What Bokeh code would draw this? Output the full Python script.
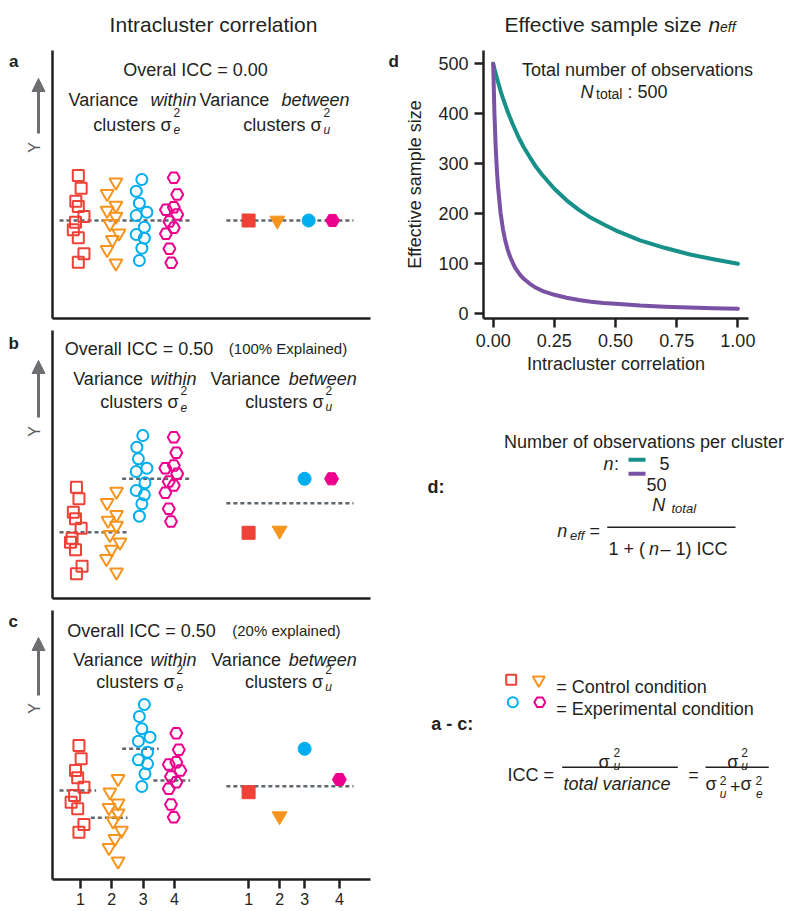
import math
from bokeh.plotting import figure
from bokeh.layouts import row, column
from bokeh.models import (Range1d, FixedTicker, Label, Arrow, NormalHead,
                          PrintfTickFormatter, LinearAxis)
from bokeh.embed import file_html
from bokeh.resources import INLINE

# ---------------- data ----------------
CLUSTERS = [1, 2, 3, 4]
TICK_LABELS = ["1", "2", "3", "4"]

# panel a : overall ICC = 0.00
A_RED_Y = [14.3, 13.03, 11.73, 11.2, 10.2, 9.63, 8.87, 8.07, 6.47, 5.63]
A_RED_DX = [-0.07, 0.02, -0.15, -0.07, 0.11, -0.16, -0.23, -0.07, 0.11, -0.07]
A_ORA_Y = [13.63, 12.47, 11.3, 10.8, 10.2, 9.47, 8.53, 7.87, 6.87, 5.53]
A_ORA_DX = [0.13, -0.15, 0.13, -0.15, 0.13, -0.06, 0.23, 0.02, -0.15, 0.13]
A_BLU_Y = [13.9, 12.73, 11.53, 10.63, 10.3, 9.13, 8.4, 8.03, 7.03, 5.8]
A_BLU_DX = [-0.04, -0.22, -0.12, 0.12, -0.22, 0.04, -0.22, 0.04, -0.04, -0.12]
A_MAG_Y = [14.07, 12.4, 11.13, 10.87, 10.4, 9.7, 9.07, 8.47, 6.97, 5.57]
A_MAG_DX = [-0.02, 0.09, -0.02, -0.27, 0.09, -0.16, -0.02, -0.27, -0.16, -0.1]
A_GROUP_MEANS = [9.8]
A_GROUP_SPANS = [(1, 4)]
A_BETWEEN_X = [6.37, 7.29, 8.29, 9.05]
A_BETWEEN_Y = [9.8, 9.8, 9.8, 9.8]
A_OVERALL = 9.8

# panel b : overall ICC = 0.50 (100% explained)
B_RED_Y = [11.13, 9.97, 8.63, 7.97, 7.03, 6.03, 5.63, 4.87, 3.23, 2.47]
B_RED_DX = [-0.13, -0.05, -0.23, -0.16, 0.02, -0.27, -0.32, -0.16, 0.05, -0.13]
B_ORA_Y = [10.7, 9.57, 8.37, 7.8, 7.3, 6.37, 5.63, 4.9, 3.97, 2.63]
B_ORA_DX = [0.15, -0.15, 0.15, -0.12, 0.15, -0.06, 0.26, -0.01, -0.17, 0.15]
B_BLU_Y = [16.3, 15.13, 13.97, 13.03, 12.7, 11.57, 10.8, 10.37, 9.47, 8.23]
B_BLU_DX = [-0.01, -0.2, -0.15, 0.12, -0.22, 0.06, -0.22, 0.04, -0.04, -0.12]
B_MAG_Y = [16.13, 14.57, 13.3, 13.03, 12.47, 11.7, 11.3, 10.57, 8.97, 7.7]
B_MAG_DX = [-0.02, 0.06, -0.02, -0.29, 0.09, -0.18, -0.02, -0.29, -0.18, -0.11]
B_GROUP_MEANS = [6.63, 11.97]
B_GROUP_SPANS = [(1, 2), (3, 4)]
B_BETWEEN_X = [6.37, 7.36, 8.16, 9.02]
B_BETWEEN_Y = [6.57, 6.8, 11.97, 11.97]
B_OVERALL = 9.53

# panel c : overall ICC = 0.50 (20% explained)
C_RED_Y = [13.4, 12.07, 10.9, 10.17, 9.23, 8.4, 7.73, 7.07, 5.5, 4.73]
C_RED_DX = [-0.05, 0.02, -0.16, -0.09, 0.11, -0.19, -0.3, -0.09, 0.11, -0.05]
C_ORA_Y = [10.07, 8.73, 7.63, 7.17, 6.63, 5.83, 4.9, 4.07, 3.17, 1.83]
C_ORA_DX = [0.2, -0.06, 0.2, -0.09, 0.2, 0.04, 0.31, 0.1, -0.09, 0.2]
C_BLU_Y = [17.5, 16.3, 15.07, 14.23, 13.83, 12.73, 11.97, 11.57, 10.57, 9.3]
C_BLU_DX = [0.04, -0.12, -0.04, 0.22, -0.15, 0.14, -0.15, 0.14, 0.06, -0.04]
C_MAG_Y = [14.63, 12.97, 11.73, 11.5, 10.9, 10.3, 9.73, 9.07, 7.5, 6.23]
C_MAG_DX = [0.06, 0.14, 0.06, -0.18, 0.19, -0.11, 0.06, -0.18, -0.11, -0.02]
C_GROUP_MEANS = [8.9, 6.17, 13.07, 9.9]
C_GROUP_SPANS = [(1, 1), (2, 2), (3, 3), (4, 4)]
C_BETWEEN_X = [6.37, 7.36, 8.16, 9.27]
C_BETWEEN_Y = [8.73, 6.33, 13.07, 10.0]
C_OVERALL = 9.33

# panel d : effective sample size vs ICC
ICC_X = [0, 0.005, 0.01, 0.015, 0.02, 0.03, 0.04, 0.05, 0.06, 0.07, 0.08, 0.09, 0.1,
         0.11, 0.125, 0.15, 0.175, 0.2, 0.25, 0.3, 0.35, 0.4, 0.45, 0.5, 0.6, 0.7,
         0.8, 0.9, 1.0]
NEFF_5 = [500, 490, 481, 472, 463, 446, 431, 417, 403, 391, 379, 368, 357,
          347, 333, 313, 294, 278, 250, 227, 208, 192, 179, 167, 147, 132,
          119, 109, 100]
NEFF_50 = [500, 402, 336, 288, 253, 202, 169, 145, 127, 113, 102, 92, 85,
           78, 70, 60, 52, 46, 38, 32, 27.5, 24, 21.7, 20, 16.4, 14.2,
           12.4, 11.1, 10]
D_X_TICKS = [0, 0.25, 0.5, 0.75, 1.0]
D_Y_TICKS = [0, 100, 200, 300, 400, 500]

# ---------------- style ----------------
FONT = "Liberation Sans"
TXT = "#231f20"
GRAY = "#6d6e71"
DASH_C = "#5e676e"
RED, ORANGE, BLUE, MAGENTA = "#ef4136", "#f7941d", "#00aeef", "#ec008c"
TEAL, PURPLE = "#17908a", "#7a52a5"
MARKERS = [("square", RED, 11), ("inverted_triangle", ORANGE, 13),
           ("circle", BLUE, 11), ("hex", MAGENTA, 12)]
LEFT_W, RIGHT_W = 385, 413
X_LO, X_HI = -1.556, 10.744          # left panels: 31.3 px per cluster step
X_AX0, X_AX1 = 0.105, 10.265


def lab(p, ox, oy, x, y, text, size=18, style="normal", align="left",
        baseline="alphabetic", color=TXT, angle=0.0):
    p.add_layout(Label(x=x - ox, y=y - oy, x_units="canvas", y_units="canvas",
                       text=text, text_font=FONT, text_font_size=f"{size}px",
                       text_font_style=style, text_align=align,
                       text_baseline=baseline, text_color=color, angle=angle))


def base_fig(width, height, xr, yr):
    p = figure(width=width, height=height, x_range=xr, y_range=yr,
               output_backend="svg", toolbar_location=None, min_border=0,
               x_axis_location=None, y_axis_location=None)
    p.outline_line_color = None
    p.xgrid.visible = False
    p.ygrid.visible = False
    p.background_fill_color = "white"
    p.border_fill_color = "white"
    return p


def style_axis(ax):
    ax.axis_line_color = TXT
    ax.axis_line_width = 2.5
    ax.minor_tick_line_color = None
    ax.major_tick_line_color = TXT
    ax.major_tick_line_width = 2.5
    ax.major_tick_out = 9
    ax.major_tick_in = 0
    ax.major_label_text_font = FONT
    ax.major_label_text_color = TXT
    ax.axis_label_text_font = FONT
    ax.axis_label_text_font_style = "normal"
    ax.axis_label_text_color = TXT


def panel(height, y_lo, y_hi, y_top, ys, dxs, means, spans, bx, by, overall, ticks=False):
    p = base_fig(LEFT_W, height, Range1d(X_LO, X_HI), Range1d(y_lo, y_hi))
    xa = LinearAxis(fixed_location=0, bounds=(X_AX0, X_AX1))
    ya = LinearAxis(fixed_location=X_AX0, bounds=(0, y_top))
    for ax in (xa, ya):
        style_axis(ax)
        ax.ticker = FixedTicker(ticks=[])
        ax.major_tick_line_color = None
    if ticks:
        xa.ticker = FixedTicker(ticks=CLUSTERS + bx)
        ov = {}
        for k, t in zip(CLUSTERS, TICK_LABELS):
            ov[k] = t
        for k, t in zip(bx, TICK_LABELS):
            ov[k] = t
        xa.major_label_overrides = ov
        xa.major_tick_line_color = TXT
        xa.major_label_text_font_size = "16px"
        xa.major_label_standoff = 4
    p.add_layout(xa, "below")
    p.add_layout(ya, "left")
    # dashed mean lines (within clusters)
    x0 = [CLUSTERS[a - 1] - 0.67 for a, b in spans]
    x1 = [CLUSTERS[b - 1] + 0.5 for a, b in spans]
    p.segment(x0=x0, y0=means, x1=x1, y1=means, line_color=DASH_C,
              line_width=2.5, line_dash="4 3")
    # dashed overall line (between clusters)
    p.segment(x0=[5.66], y0=[overall], x1=[9.72], y1=[overall], line_color=DASH_C,
              line_width=2.5, line_dash="4 3")
    for k, y, dx, (mk, col, sz) in zip(CLUSTERS, ys, dxs, MARKERS):
        xs = [k + d for d in dx]
        p.scatter(xs, y, marker=mk, size=sz, fill_color=None, line_color=col, line_width=2)
    for x, y, (mk, col, sz) in zip(bx, by, MARKERS):
        p.scatter([x], [y], marker=mk, size=sz + 2, fill_color=col, line_color=col, line_width=1)
    return p


def arrow_y(p, oy, tip, bottom, ylab):
    p.add_layout(Arrow(end=NormalHead(size=13, fill_color=GRAY, line_color=GRAY, line_width=1),
                       x_start=38, y_start=bottom - oy, x_end=38, y_end=tip - oy,
                       start_units="canvas", end_units="canvas",
                       line_color=GRAY, line_width=3))
    lab(p, 0, oy, 34, ylab, "Y", 16, align="center", baseline="middle",
        color="#58595b", angle=math.pi / 2)


def sigma_block(p, oy, xr, y, sub, up=12, down=5):
    lab(p, 0, oy, xr, y, "clusters \u03c3", 18, align="right")
    lab(p, 0, oy, xr + 2, y - up, "2", 12)
    lab(p, 0, oy, xr + 2, y + down, sub, 12, style="italic")


# ---------------- panel a ----------------
fa = panel(326, -0.8, 31.8, 26.8, [A_RED_Y, A_ORA_Y, A_BLU_Y, A_MAG_Y],
           [A_RED_DX, A_ORA_DX, A_BLU_DX, A_MAG_DX], A_GROUP_MEANS, A_GROUP_SPANS,
           A_BETWEEN_X, A_BETWEEN_Y, A_OVERALL)
lab(fa, 0, 0, 213, 23.5, "Intracluster correlation", 21, align="center")
lab(fa, 0, 0, 8.5, 60.5, "a", 17, style="bold")
lab(fa, 0, 0, 195, 69, "Overal ICC = 0.00", 18, align="center")
lab(fa, 0, 0, 68, 99.5, "Variance", 18)
lab(fa, 0, 0, 150, 99.5, "within", 18, style="italic")
sigma_block(fa, 0, 171, 124, "e")
lab(fa, 0, 0, 199, 99.5, "Variance", 18)
lab(fa, 0, 0, 281, 99.5, "between", 18, style="italic")
sigma_block(fa, 0, 321, 124, "u")
arrow_y(fa, 0, 78, 133, 147)

# ---------------- panel b ----------------
OB = 326
fb = panel(280, -0.8, 27.2, 26.8, [B_RED_Y, B_ORA_Y, B_BLU_Y, B_MAG_Y],
           [B_RED_DX, B_ORA_DX, B_BLU_DX, B_MAG_DX], B_GROUP_MEANS, B_GROUP_SPANS,
           B_BETWEEN_X, B_BETWEEN_Y, B_OVERALL)
lab(fb, 0, OB, 8, 342.5, "b", 17, style="bold")
lab(fb, 0, OB, 64.3, 348.3, "Overall ICC = 0.50", 18)
lab(fb, 0, OB, 228.3, 348.3, "(100% Explained)", 15)
lab(fb, 0, OB, 72.7, 378.3, "Variance", 18)
lab(fb, 0, OB, 150, 378.3, "within", 18, style="italic")
sigma_block(fb, OB, 178, 401.7, "e")
lab(fb, 0, OB, 210, 378.3, "Variance", 18)
lab(fb, 0, OB, 288.3, 378.3, "between", 18, style="italic")
sigma_block(fb, OB, 323, 401.7, "u")
arrow_y(fb, OB, 360, 417, 431)

# ---------------- panel c ----------------
OC = 606
fc = panel(305, -3.2, 27.3, 26.9, [C_RED_Y, C_ORA_Y, C_BLU_Y, C_MAG_Y],
           [C_RED_DX, C_ORA_DX, C_BLU_DX, C_MAG_DX], C_GROUP_MEANS, C_GROUP_SPANS,
           C_BETWEEN_X, C_BETWEEN_Y, C_OVERALL, ticks=True)
lab(fc, 0, OC, 8, 621, "c", 17, style="bold")
lab(fc, 0, OC, 66.7, 630, "Overall ICC = 0.50", 18)
lab(fc, 0, OC, 231.7, 630, "(20% explained)", 15)
lab(fc, 0, OC, 72.7, 659, "Variance", 18)
lab(fc, 0, OC, 150, 659, "within", 18, style="italic")
sigma_block(fc, OC, 174, 681, "e")
lab(fc, 0, OC, 210.7, 659, "Variance", 18)
lab(fc, 0, OC, 288.3, 659, "between", 18, style="italic")
sigma_block(fc, OC, 322.7, 681, "u")
arrow_y(fc, OC, 637, 695, 708)

# ---------------- panel d ----------------
OX = 385
fd = base_fig(RIGHT_W, 385, Range1d(-0.4401, 1.2477), Range1d(-143.4, 626.6))
fd.line(ICC_X, NEFF_5, line_color=TEAL, line_width=4, line_cap="round", line_join="round")
fd.line(ICC_X, NEFF_50, line_color=PURPLE, line_width=4, line_cap="round", line_join="round")
dxa = LinearAxis(fixed_location=-10, bounds=(-0.0396, 1.043),
                 ticker=FixedTicker(ticks=D_X_TICKS),
                 formatter=PrintfTickFormatter(format="%.2f"),
                 axis_label="Intracluster correlation")
dya = LinearAxis(fixed_location=-0.0396, bounds=(-10, 526.6),
                 ticker=FixedTicker(ticks=D_Y_TICKS),
                 axis_label="Effective sample size")
for ax in (dxa, dya):
    style_axis(ax)
    ax.major_label_text_font_size = "18px"
    ax.axis_label_text_font_size = "18px"
    ax.major_label_standoff = 6
dxa.axis_label_standoff = 4
dya.axis_label_standoff = 10
fd.add_layout(dxa, "below")
fd.add_layout(dya, "left")
lab(fd, OX, 0, 504, 23.5, "Effective sample size", 21)
lab(fd, OX, 0, 708, 23.5, "n", 21, style="italic")
lab(fd, OX, 0, 719.5, 26.5, "eff", 14, style="italic")
lab(fd, OX, 0, 388, 60.5, "d", 17, style="bold")
lab(fd, OX, 0, 637, 69, "Total number of observations", 18, align="center")
lab(fd, OX, 0, 580, 91.7, "N", 18, style="italic")
lab(fd, OX, 0, 595.5, 93.5, "total", 14)
lab(fd, OX, 0, 627, 91.7, ": 500", 18)

# ---------------- text / legend area ----------------
OY = 385
ft = base_fig(RIGHT_W, 526, Range1d(OX, OX + RIGHT_W), Range1d(911, OY))
lab(ft, OX, OY, 643.5, 441.7, "Number of observations per cluster", 18, align="center")
lab(ft, OX, OY, 603, 463, "n", 18, style="italic")
lab(ft, OX, OY, 613.5, 463, ":", 18)
ft.segment(x0=[628, 628], y0=[459.3, 473.3], x1=[645, 645], y1=[459.3, 473.3],
           line_color=[TEAL, PURPLE], line_width=4)
lab(ft, OX, OY, 659, 463.3, "5", 18)
lab(ft, OX, OY, 646, 484, "50", 18)
lab(ft, OX, OY, 427, 486.7, "d:", 18, style="bold")
# n_eff formula
lab(ft, OX, OY, 556.7, 530.7, "n", 18, style="italic")
lab(ft, OX, OY, 569.5, 535, "eff", 13, style="italic")
lab(ft, OX, OY, 589, 530.7, "=", 18)
ft.segment(x0=[606.7], y0=[526.7], x1=[735], y1=[526.7], line_color=TXT, line_width=1.5)
lab(ft, OX, OY, 651.7, 504.5, "N", 18, style="italic")
lab(ft, OX, OY, 671, 507.5, "total", 13, style="italic")
lab(ft, OX, OY, 608, 548.5, "1 + (", 18)
lab(ft, OX, OY, 648.5, 548.5, "n", 18, style="italic")
lab(ft, OX, OY, 660, 548.5, "\u2013 1) ICC", 18)
# marker legend
for (mk, col, sz), (x, y) in zip(MARKERS, [(510.7, 679.3), (538.3, 679.5), (512.3, 701.7), (539.3, 701.7)]):
    ft.scatter([x], [y], marker=mk, size=sz - 1, fill_color=None, line_color=col, line_width=2)
lab(ft, OX, OY, 555.7, 686, "= Control condition", 18)
lab(ft, OX, OY, 555.7, 708.3, "= Experimental condition", 18)
lab(ft, OX, OY, 430.7, 723.5, "a - c:", 18, style="bold")
# ICC formula
lab(ft, OX, OY, 507, 774, "ICC =", 18)
lab(ft, OX, OY, 598, 761.7, "\u03c3", 18)
lab(ft, OX, OY, 613, 751.5, "2", 12)
lab(ft, OX, OY, 613, 765, "u", 12, style="italic")
ft.segment(x0=[561.7, 705], y0=[766.7, 766.7], x1=[677.3, 768.3], y1=[766.7, 766.7],
           line_color=TXT, line_width=1.5)
lab(ft, OX, OY, 563, 783.5, "total variance", 18, style="italic")
lab(ft, OX, OY, 687.7, 774, "=", 18)
lab(ft, OX, OY, 726.7, 761.7, "\u03c3", 18)
lab(ft, OX, OY, 740.7, 751.5, "2", 12)
lab(ft, OX, OY, 740.7, 765, "u", 12, style="italic")
lab(ft, OX, OY, 705, 783, "\u03c3", 18)
lab(ft, OX, OY, 719.3, 779.5, "2", 12)
lab(ft, OX, OY, 719.3, 793, "u", 12, style="italic")
lab(ft, OX, OY, 729.5, 785.5, "+", 18)
lab(ft, OX, OY, 740, 783, "\u03c3", 18)
lab(ft, OX, OY, 755, 779.5, "2", 12)
lab(ft, OX, OY, 755.5, 793, "e", 12, style="italic")

layout = row(column(fa, fb, fc), column(fd, ft))
open("out.html", "w").write(file_html(layout, INLINE, "Intracluster correlation"))
